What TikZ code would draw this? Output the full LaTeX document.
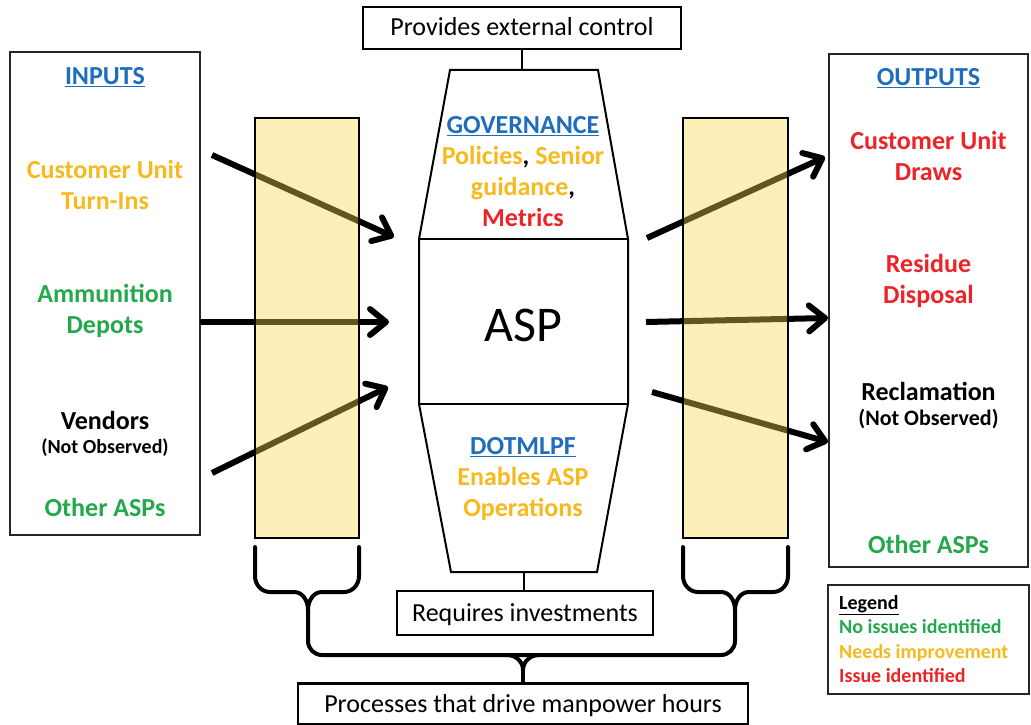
\documentclass[tikz,border=0pt]{standalone}
\usepackage{fontspec}
\setmainfont{Carlito}
\usetikzlibrary{arrows.meta}

\definecolor{hdrblue}{RGB}{31,110,190}
\definecolor{okgreen}{RGB}{35,168,75}
\definecolor{warnyel}{RGB}{247,185,30}
\definecolor{badred}{RGB}{237,35,40}
\definecolor{colfill}{RGB}{247,214,75}

\tikzset{
  txt/.style={font=\fontsize{26}{31}\selectfont\bfseries, align=center, inner sep=0pt},
  plain/.style={font=\fontsize{26}{31}\selectfont, inner sep=0pt, text height=20pt, text depth=4pt},
  box/.style={draw, line width=2.5pt},
  side/.style={draw=black!85, line width=1.5pt},
  flow/.style={-{Straight Barb[length=16pt,width=26pt,round]}, line width=6pt},
  column/.style={draw, line width=2pt, fill=colfill, fill opacity=0.4},
  brace/.style={line width=4pt, line cap=round, line join=round}
}

\begin{document}
\begin{tikzpicture}[x=1pt, y=-1pt]
\useasboundingbox (0,0) rectangle (1031,725);

% input and output lists
\node[side, minimum width=190, minimum height=483] (inbox) at (105,293.5) {};
\node[side, minimum width=199, minimum height=513] (outbox) at (928.5,310.5) {};

\node[txt, text=hdrblue] (inhdr) at (105,77) {\underline{INPUTS}};
\node[txt, text=warnyel] (turnin) at (105,185) {Customer Unit\\Turn-Ins};
\node[txt, text=okgreen] (depot) at (105,311) {Ammunition\\Depots};
\node[txt] (vendor) at (105,420) {Vendors};
\node[font=\fontsize{20}{24}\selectfont\bfseries, inner sep=0pt] (vendnote) at (105,448) {(Not Observed)};
\node[txt, text=okgreen] (inasp) at (105,507) {Other ASPs};

\node[txt, text=hdrblue] (outhdr) at (928.5,78) {\underline{OUTPUTS}};
\node[txt, text=badred] (draws) at (928.5,156) {Customer Unit\\Draws};
\node[txt, text=badred] (residue) at (928.5,281) {Residue\\Disposal};
\node[txt] (reclaim) at (928.5,391) {Reclamation};
\node[font=\fontsize{22}{26}\selectfont\bfseries, inner sep=0pt] (reclnote) at (928.5,419) {(Not Observed)};
\node[txt, text=okgreen] (outasp) at (928.5,544) {Other ASPs};

% flows in and out
\coordinate (a1) at (212,155); \coordinate (b1) at (394,237);
\coordinate (a2) at (200,322); \coordinate (b2) at (389,322);
\coordinate (a3) at (212,473); \coordinate (b3) at (388,387);
\coordinate (c1) at (647,238); \coordinate (d1) at (825,157);
\coordinate (c2) at (646,322); \coordinate (d2) at (828,318);
\coordinate (c3) at (652,392); \coordinate (d3) at (828,442);
\foreach \i in {1,2,3}
{
    \draw[flow] (a\i) -- (b\i);
    \draw[flow] (c\i) -- (d\i);
}

\node[column, minimum width=104, minimum height=420] (incol) at (307,328) {};
\node[column, minimum width=105, minimum height=420] (outcol) at (735.5,328) {};

% the ASP itself
\draw[line width=2pt] (450,70) -- (598,70) -- (628,239) -- (628,404) -- (597,572)
    -- (451,572) -- (419,404) -- (419,239) -- cycle;
\draw[line width=2pt] (419,239) -- (628,239);
\draw[line width=2pt] (419,404) -- (628,404);
\coordinate (gtop) at (522,70);
\coordinate (gbot) at (524,572);

\node[txt] (gov) at (523,172) {\textcolor{hdrblue}{\underline{GOVERNANCE}}\\
    \textcolor{warnyel}{Policies}, \textcolor{warnyel}{Senior}\\
    \textcolor{warnyel}{guidance},\\
    \textcolor{badred}{Metrics}};
\node[font=\fontsize{50}{60}\selectfont, inner sep=0pt] (asp) at (523,325) {ASP};
\node[txt] (dot) at (523,479) {\textcolor{hdrblue}{\underline{DOTMLPF}}\\
    \textcolor{warnyel}{Enables ASP}\\
    \textcolor{warnyel}{Operations}};

\node[box, plain, minimum width=318, minimum height=42] (ctrl) at (522,28) {Provides external control};
\node[box, plain, minimum width=256, minimum height=44] (req) at (525,613) {Requires investments};
\node[box, plain, minimum width=450, minimum height=41] (proc) at (523,704) {Processes that drive manpower hours};
\draw[line width=2.5pt] (ctrl.south) -- (gtop);
\draw[line width=2.5pt] (gbot) -- (gbot |- req.north);

% braces under the two columns
\draw[brace] (255,547) -- (255,576) to[out=90+180,in=180] (270,592) -- (294,592)
    to[out=0,in=90] (308,610) -- (308,641) to[out=-90,in=180] (322,655) -- (721,655)
    to[out=0,in=-90] (735,641) -- (735,610) to[out=90,in=180] (749,592) -- (773,592)
    to[out=0,in=-90] (788,576) -- (788,547);
\draw[brace] (359,547) -- (359,576) to[out=-90,in=0] (344,592) -- (322,592) to[out=180,in=90] (308,610);
\draw[brace] (683,547) -- (683,576) to[out=-90,in=180] (698,592) -- (721,592) to[out=0,in=90] (735,610);
\coordinate (pinch) at (523,670);
\draw[brace] (507,655) to[out=0,in=90] (pinch) to[out=90,in=180] (539,655);
\draw[line width=4pt] (pinch) -- (proc.north);

% legend
\node[side, minimum width=201, minimum height=109] (legbox) at (928.5,639.5) {};
\node[font=\fontsize{20}{24.5}\selectfont\bfseries, align=left, inner sep=0pt, anchor=north west] (leg) at (839,595)
    {\underline{Legend}\\
    \textcolor{okgreen}{No issues identified}\\
    \textcolor{warnyel}{Needs improvement}\\
    \textcolor{badred}{Issue identified}};
\end{tikzpicture}
\end{document}
